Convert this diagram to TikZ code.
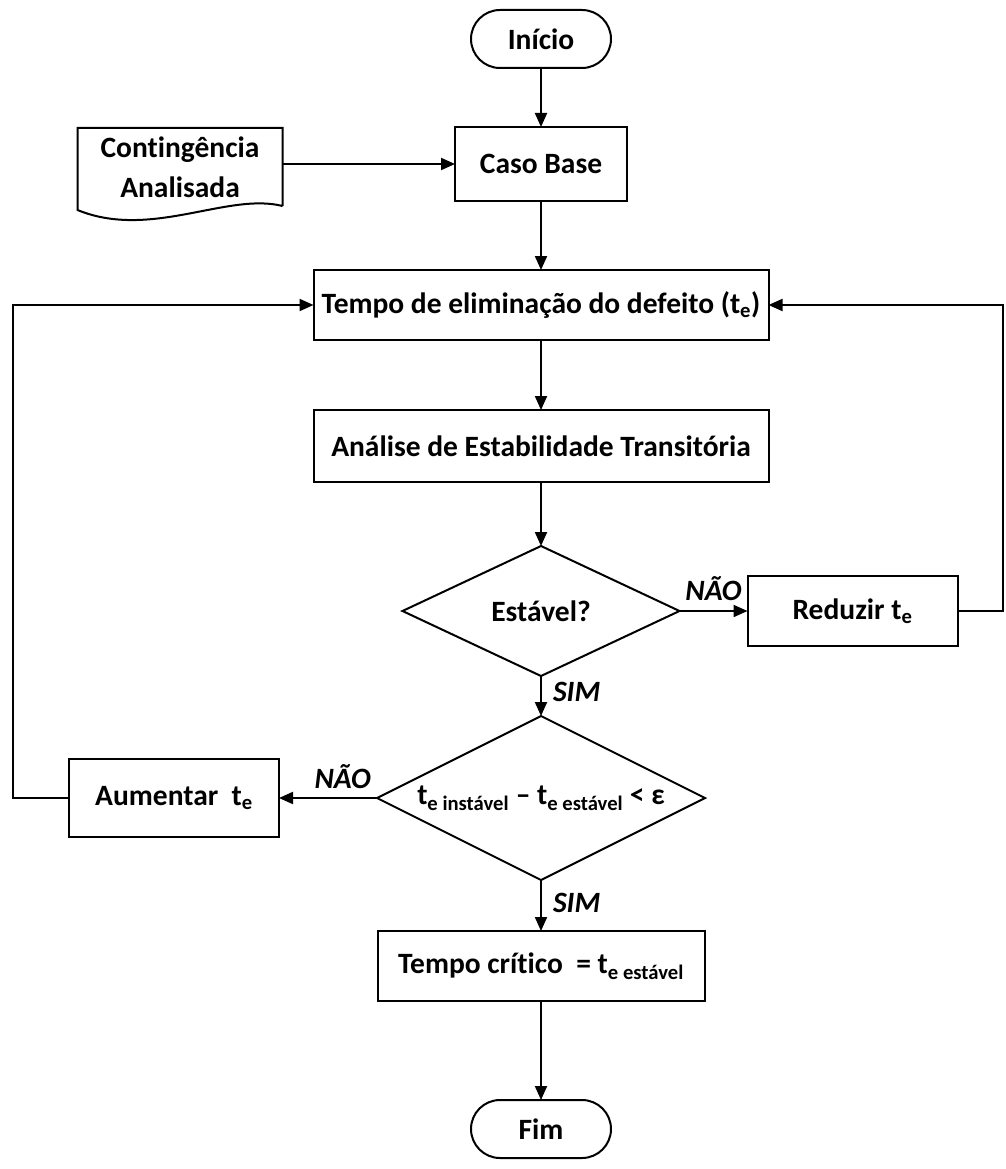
\documentclass[tikz,border=0pt]{standalone}
\usepackage{fontspec}
\setmainfont{Carlito}[Ligatures=NoCommon]
\usetikzlibrary{arrows.meta,positioning,shapes.geometric,calc}

\begin{document}
\begin{tikzpicture}[->,>={Triangle[length=14pt,width=12pt]},x=1pt,y=-1pt,
                    line width=2pt,
                    font=\fontsize{29.5}{40}\selectfont\bfseries]
      \tikzstyle{every node}=[outer sep=0pt]
      \tikzstyle{proc}=[draw,fill=white,inner sep=0pt,minimum height=70pt]
      \tikzstyle{term}=[draw,rounded corners=29pt,inner sep=0pt,
                        minimum width=140pt,minimum height=58pt]
      \tikzstyle{decide}=[draw,diamond,inner sep=0pt]
      \tikzstyle{lbl}=[font=\fontsize{29.5}{40}\selectfont\bfseries\itshape,
                       inner sep=0pt]

      \useasboundingbox (0,0) rectangle (1005,1169);

      \node[term]  (ini)  at (541,39)            {Início};
      \node[proc,minimum width=172pt,minimum height=74pt]
                   (base) [below=59pt of ini]     {Caso Base};
      \node[inner sep=0pt,minimum width=205pt,minimum height=78pt,align=center]
                   (cont) at (180,167)            {Contingência\\Analisada};
      \node[proc,minimum width=455pt]
                   (tempo) [below=69pt of base]   {Tempo de eliminação do defeito (t\textsubscript{e})};
      \node[proc,minimum width=455pt,minimum height=72pt]
                   (ana)  [below=70pt of tempo]   {Análise de Estabilidade Transitória};
      \node[decide,minimum width=277pt,minimum height=130pt]
                   (d1)   [below=64pt of ana]     {};
      \node        (d1txt) at (d1)                {Estável?};
      \node[proc,minimum width=210pt]
                   (red)  [right=68pt of d1]      {Reduzir t\textsubscript{e}};
      \node[decide,minimum width=328pt,minimum height=164pt]
                   (d2)   [below=40pt of d1]      {};
      \node        (d2txt) at (d2)                {t\textsubscript{e instável} – t\textsubscript{e estável} < ε};
      \node[proc,minimum width=210pt,minimum height=78pt]
                   (aum)  [left=98pt of d2]       {Aumentar~ t\textsubscript{e}};
      \node[proc,minimum width=327pt]
                   (crit) [below=51pt of d2]      {Tempo crítico~ = t\textsubscript{e estável}};
      \node[term]  (fim)  [below=99pt of crit]    {Fim};

      % documento
      \draw[-] (cont.south east) -- (cont.north east) -- (cont.north west)
            -- ($(cont.south west)+(0,4)$)
            .. controls +(73,30) and +(-55,-14) .. (cont.south east);

      \path (ini)  edge                     (base)
            (base) edge                     (tempo)
            (tempo) edge                    (ana)
            (ana)  edge                     (d1)
            (d1)   edge node[lbl,above=10pt] {NÃO} (red)
                   edge node[lbl,right=12pt,pos=.4] {SIM} (d2)
            (d2)   edge node[lbl,above=9pt,pos=.35] {NÃO} (aum)
                   edge node[lbl,right=12pt,pos=.45] {SIM} (crit)
            (crit) edge                     (fim);

      \draw (cont.east |- base) -- (base);
      \draw (red.east) -- ++(45,0) |- (tempo);
      \draw (aum.west) -- ++(-56,0) |- (tempo);

\end{tikzpicture}
\end{document}
